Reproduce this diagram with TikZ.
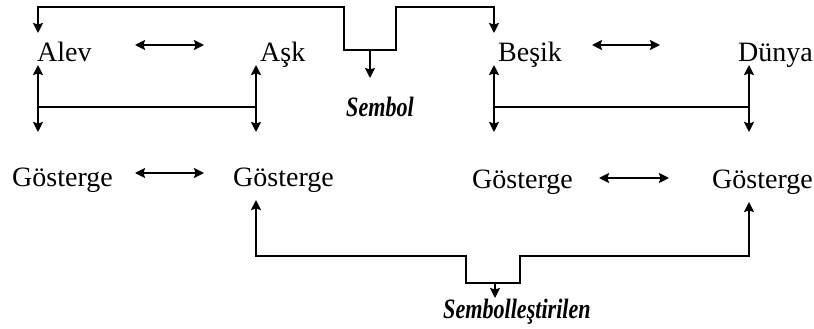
\documentclass[tikz,border=0pt]{standalone}
\usepackage{fontspec}
\setmainfont{Liberation Serif}
\usetikzlibrary{arrows.meta}
\tikzset{
  word/.style={inner sep=0pt, anchor=base west, font=\fontsize{28}{30}\selectfont},
  label/.style={inner sep=0pt, anchor=base west, font=\fontsize{28}{30}\selectfont\bfseries\itshape},
  link/.style={line width=1.7pt},
  tip/.tip={Stealth[length=10pt,width=10pt,inset=1.5pt]},
  onearrow/.style={link, -tip},
  twoarrow/.style={link, tip-tip}
}
\newcommand{\narrow}[1]{\scalebox{0.79}[1]{#1}}
\begin{document}
\begin{tikzpicture}[x=1pt,y=-1pt]
\useasboundingbox (0,0) rectangle (814,329);

% words
\node[word] (alev)  at (37,62)  {Alev};
\node[word] (ask)   at (260,62) {Aşk};
\node[word] (besik) at (498,62) {Beşik};
\node[word] (dunya) at (738,62) {Dünya};
\node[word] (g1) at (12,186)  {Gösterge};
\node[word] (g2) at (233,186) {Gösterge};
\node[word] (g3) at (472,188) {Gösterge};
\node[word] (g4) at (712,188) {Gösterge};
\node[label] (sembol) at (346,117) {\narrow{Sembol}};
\node[label] (sembolize) at (443,318) {\narrow{Sembolleştirilen}};

% anchor points of the connectors
\coordinate (alevIn)  at (38,33);
\coordinate (besikIn) at (494,33);
\coordinate (dipL) at (344,50);
\coordinate (dipR) at (396,50);
\coordinate (dipM) at (370,50);
\coordinate (sembolIn) at (370,78);

\coordinate (brA) at (38,107);
\coordinate (brB) at (256,107);
\coordinate (brC) at (494,107);
\coordinate (brD) at (749,107);
\coordinate (alevUp) at (38,65);
\coordinate (askUp)  at (256,65);
\coordinate (besikUp) at (494,65);
\coordinate (dunyaUp) at (749,65);
\coordinate (g1Down) at (38,132);
\coordinate (g2Down) at (256,132);
\coordinate (g3Down) at (494,132);
\coordinate (g4Down) at (749,132);

\coordinate (g2Up) at (256,200);
\coordinate (g4Up) at (749,202);
\coordinate (lowL) at (466,283);
\coordinate (lowR) at (520,283);
\coordinate (lowM) at (495,283);
\coordinate (sembolizeIn) at (495,298);

% upper bracket: Sembol
\draw[twoarrow]
  (alevIn) |- (dipL |- 0,7) -- (dipL) -- (dipR) -- (dipR |- 0,7) -| (besikIn);
\draw[onearrow] (dipM) -- (sembolIn);

% word-to-sign brackets
\draw[link] (brA) -- (brB);
\draw[link] (brC) -- (brD);
\foreach \p/\u/\d in {brA/alevUp/g1Down, brB/askUp/g2Down, brC/besikUp/g3Down, brD/dunyaUp/g4Down}{
  \draw[onearrow] (\p) -- (\u);
  \draw[onearrow] (\p) -- (\d);
}

% horizontal double arrows
\draw[twoarrow] (135,45) -- (204,45);
\draw[twoarrow] (592,45) -- (660,45);
\draw[twoarrow] (135,173) -- (204,173);
\draw[twoarrow] (599,178) -- (669,178);

% lower bracket: Sembolleştirilen
\draw[twoarrow]
  (g2Up) |- (lowL |- 0,256) -- (lowL) -- (lowR) -- (lowR |- 0,256) -| (g4Up);
\draw[onearrow] (lowM) -- (sembolizeIn);
\end{tikzpicture}
\end{document}
